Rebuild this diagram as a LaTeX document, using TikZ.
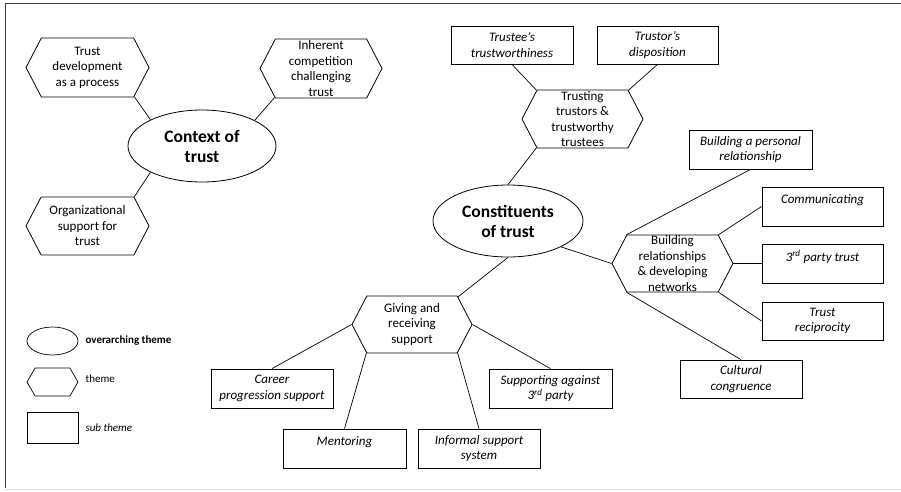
\documentclass[tikz,border=0pt]{standalone}
\usepackage{fontspec}
\setmainfont{Carlito}
\usetikzlibrary{shapes.geometric, shapes.symbols, positioning}
\tikzset{
    overarching theme/.style={ellipse, draw, line width=0.8pt, minimum width=150pt, minimum height=72pt, inner sep=0pt, align=center, font=\bfseries\fontsize{17.5}{20}\selectfont},
    theme/.style={signal, signal to=west and east, signal pointer angle=125, draw, line width=0.8pt, minimum width=121pt, minimum height=58pt, inner sep=0pt, align=center, font=\fontsize{13}{15.5}\selectfont},
    sub theme/.style={rectangle, draw, line width=0.8pt, minimum width=122pt, minimum height=39pt, inner sep=0pt, align=center, font=\itshape\fontsize{13}{15.5}\selectfont},
    legend text/.style={anchor=west, inner sep=0pt, font=\fontsize{11}{13}\selectfont},
    link/.style={line width=0.7pt}
}

\begin{document}
\begin{tikzpicture}[x=1pt, y=-1pt]
    \useasboundingbox (0,0) rectangle (901,491);
    \draw[line width=1pt, black!75] (5,488) -- (5,3) -- (901,3);
    \draw[black!12] (5,489.5) -- (901,489.5);

    \node[overarching theme, minimum width=148pt] (context) at (202,146) {Context of\\trust};
    \node[overarching theme] (constituents) at (508,221) {Constituents\\of trust};

    \node[theme, minimum width=123pt, minimum height=59pt] (development) at (87.5,67.5) {Trust\\development\\as a process};
    \node[theme, minimum width=122pt, minimum height=59pt] (competition) at (321,68.5) {Inherent\\competition\\challenging\\trust};
    \node[theme, minimum width=123pt] (organizational) at (87.5,226) {Organizational\\support for\\trust};
    \node[theme] (trusting) at (582.5,119) {Trusting\\trustors \&\\trustworthy\\trustees};
    \node[theme, minimum height=57pt] (building) at (672.5,263.5) {Building\\relationships\\\& developing\\networks};
    \node[theme, minimum width=120pt, minimum height=57pt] (giving) at (412,324.5) {Giving and\\receiving\\support};

    \node[sub theme, minimum height=38pt] (trustee) at (512,45) {Trustee's\\trustworthiness};
    \node[sub theme, minimum width=121pt, minimum height=38pt] (trustor) at (657.5,45) {Trustor's\\disposition};
    \node[sub theme, minimum width=123pt] (personal) at (750.5,149.5) {Building a personal\\relationship};
    \node[sub theme, minimum width=121pt] (communicating) at (822.5,206.5) {Communicating\\\mbox{}};
    \node[sub theme, minimum width=121pt] (party) at (822.5,263.5) {3\textsuperscript{rd} party trust\\\mbox{}};
    \node[sub theme, minimum width=121pt, minimum height=38pt] (reciprocity) at (822.5,321) {Trust\\reciprocity};
    \node[sub theme, minimum height=38pt] (cultural) at (741,379) {Cultural\\congruence};
    \node[sub theme] (career) at (272,388.5) {Career\\progression support};
    \node[sub theme, minimum width=123pt] (mentoring) at (344.5,448.5) {Mentoring\\\mbox{}};
    \node[sub theme] (informal) at (479,448.5) {Informal support\\system};
    \node[sub theme, minimum width=123pt] (against) at (550.5,388.5) {Supporting against\\3\textsuperscript{rd} party};

    \node[overarching theme, minimum width=51pt, minimum height=28pt, line width=0.7pt] (legend oval) at (52.5,341) {};
    \node[legend text, font=\bfseries\fontsize{11}{13}\selectfont, right=7pt of legend oval] (oval label) {overarching theme};
    \node[theme, minimum width=51pt, minimum height=28pt, signal pointer angle=120, line width=0.7pt] (legend hex) at (52.5,382) {};
    \node[legend text, right=7pt of legend hex, yshift=3pt] (hex label) {theme};
    \node[sub theme, minimum width=51pt, minimum height=31pt, line width=0.7pt] (legend box) at (52.5,427.5) {};
    \node[legend text, font=\itshape\fontsize{11}{13}\selectfont, right=7pt of legend box] (box label) {sub theme};

    \draw[link] (development.-32) -- (context.153);
    \draw[link] (competition.212) -- (context.26);
    \draw[link] (organizational.32) -- (context.207);
    \draw[link] (trustee.south) -- (trusting.148);
    \draw[link] (trustor.south) -- (trusting.32);
    \draw[link] (trusting.212) -- (constituents.north);
    \draw[link] (constituents.334) -- (building.180);
    \draw[link] (constituents.south) -- (giving.31);
    \draw[link] (personal.south) -- (building.148);
    \draw[link] (communicating.west) -- (building.32);
    \draw[link] (party.west) -- (building.0);
    \draw[link] (reciprocity.west) -- (building.-32);
    \draw[link] (cultural.north) -- (building.212);
    \draw[link] (career.north) -- (giving.180);
    \draw[link] (mentoring.north) -- (giving.212);
    \draw[link] (informal.north) -- (giving.-32);
    \draw[link] (against.north) -- (giving.0);
\end{tikzpicture}
\end{document}
